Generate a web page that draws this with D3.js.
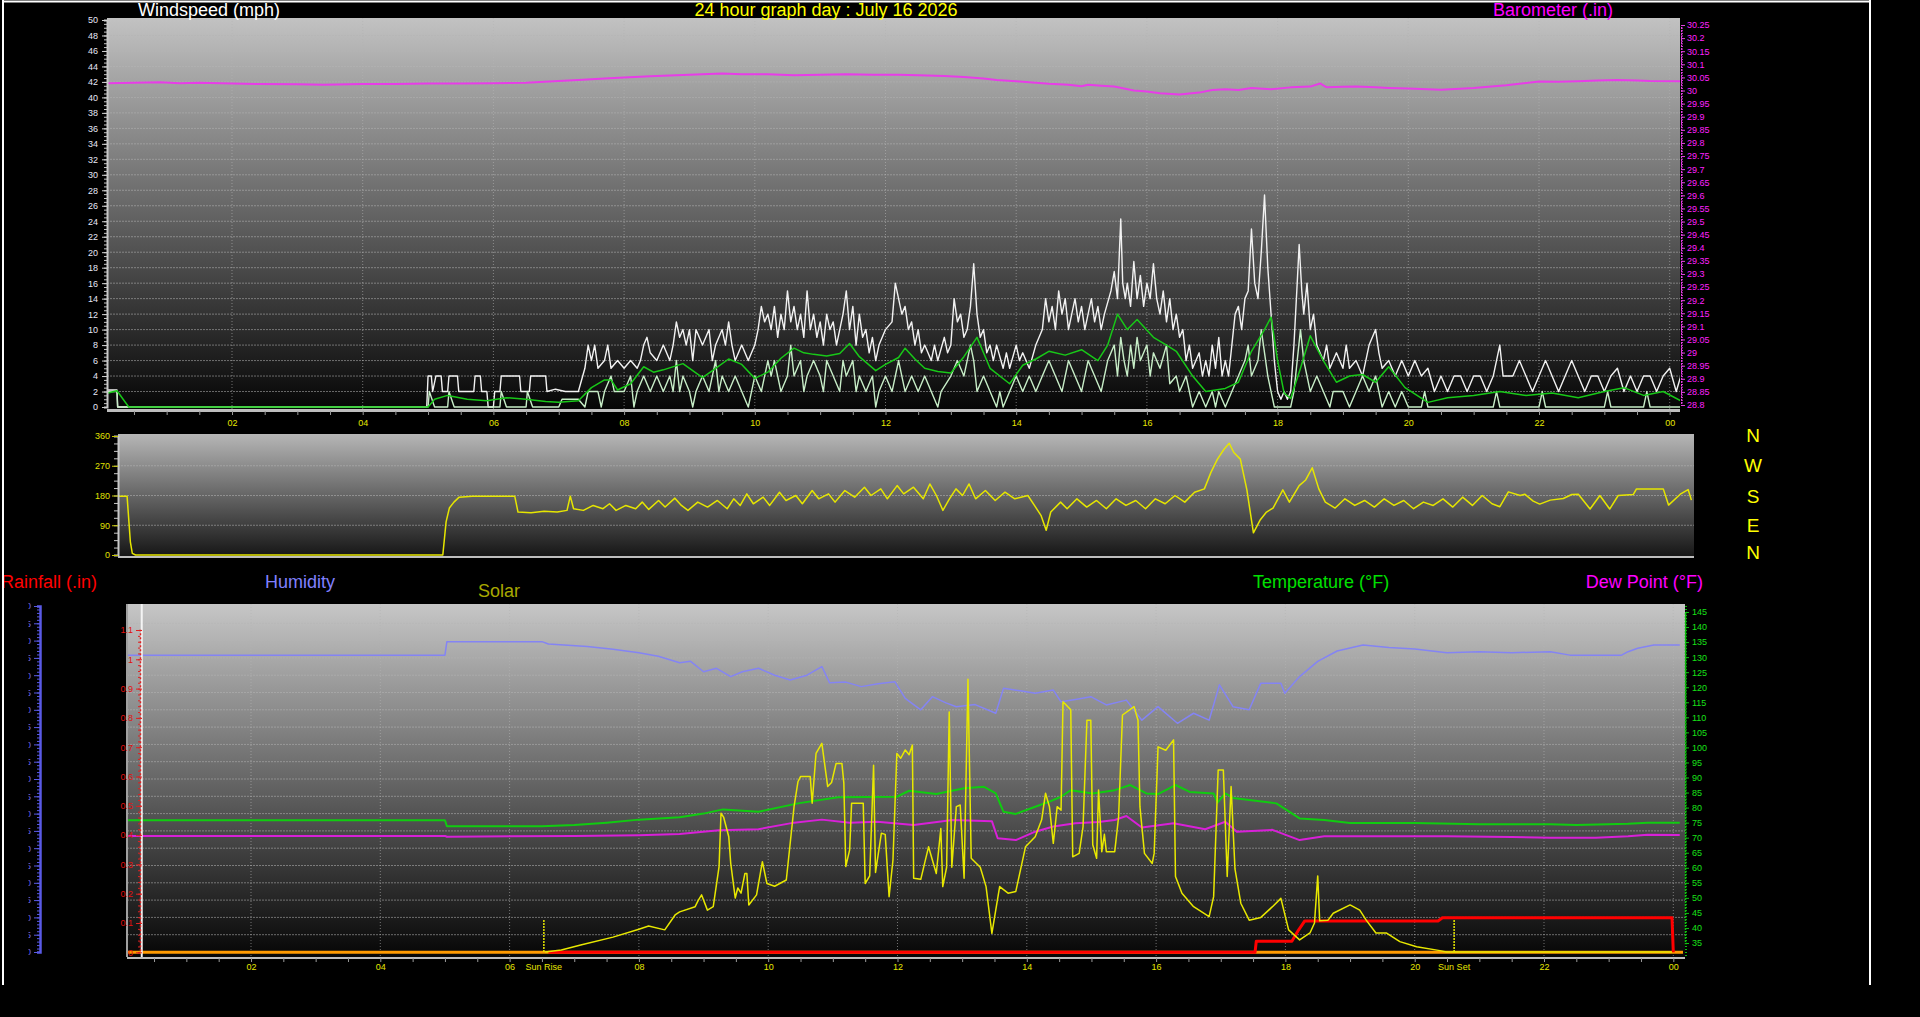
<!DOCTYPE html>
<html>
<head>
<meta charset="utf-8">
<script src="https://cdnjs.cloudflare.com/ajax/libs/d3/7.8.5/d3.min.js"></script>
<style>
  html, body { margin:0; padding:0; background:#000; overflow:hidden; }
  svg { display:block; font-family:"Liberation Sans", Arial, sans-serif; }
</style>
</head>
<body>
<script>
// ---- DATA (hour of day, value) ----
var titleText = '24 hour graph day : July 16 2026';
var hourTicks = [2, 4, 6, 8, 10, 12, 14, 16, 18, 20, 22, 24];
var compassLabels = ['N', 'W', 'S', 'E', 'N'];
var sunRise = 6.53, sunSet = 20.61, markerHour = 0.31;

var windGust = [[0,2.2],[0.24,2.2],[0.25,0],[4.98,0],[5.0,4],[5.05,4],[5.07,2],[5.12,4],[5.2,4],[5.22,2],[5.3,2],[5.32,4],[5.45,4],[5.47,2],[5.7,2],[5.72,4],[5.8,4],[5.82,2],[5.9,2],[5.92,0],[6.0,0],[6.02,2],[6.1,2],[6.12,4],[6.4,4],[6.42,2],[6.55,2],[6.57,4],[6.8,4],[6.82,2],[6.95,2.3],[7.1,2],[7.2,2],[7.3,2],[7.4,5],[7.45,8],[7.5,6],[7.55,8],[7.6,5],[7.7,6],[7.75,8],[7.8,5],[7.9,6],[8.0,5],[8.1,6],[8.2,5],[8.25,6],[8.3,8],[8.35,9],[8.4,7],[8.5,6],[8.6,8],[8.7,6],[8.75,8],[8.8,11],[8.85,9],[8.9,10],[8.95,8],[9.0,10],[9.05,6],[9.1,10],[9.15,9],[9.2,8],[9.3,10],[9.35,6],[9.4,8],[9.5,10],[9.55,8],[9.6,11],[9.65,8],[9.7,6],[9.8,8],[9.9,6],[10.0,8],[10.05,10],[10.1,13],[10.15,11],[10.2,12],[10.25,10],[10.3,13],[10.35,9],[10.4,12],[10.45,10],[10.5,15],[10.55,11],[10.6,13],[10.65,10],[10.7,12],[10.75,9],[10.8,15],[10.85,10],[10.9,12],[10.95,9],[11.0,11],[11.05,8],[11.1,12],[11.15,10],[11.2,11],[11.25,8],[11.3,10],[11.35,12],[11.4,15],[11.45,10],[11.5,13],[11.55,8],[11.6,12],[11.65,9],[11.7,10],[11.75,7],[11.8,9],[11.85,6],[11.9,8],[12.0,10],[12.1,11],[12.15,16],[12.2,14],[12.25,12],[12.3,13],[12.35,10],[12.4,11],[12.45,8],[12.5,10],[12.55,7],[12.6,8],[12.7,6],[12.75,8],[12.8,6],[12.9,9],[12.95,7],[13.0,8],[13.05,14],[13.1,11],[13.15,12],[13.2,9],[13.25,10],[13.3,13],[13.35,18.5],[13.4,12],[13.45,9],[13.5,10],[13.55,7],[13.6,8],[13.65,6],[13.7,8],[13.8,5],[13.85,7],[13.9,5],[14.0,8],[14.05,6],[14.1,7],[14.2,5],[14.3,8],[14.4,10],[14.45,14],[14.5,11],[14.55,13],[14.6,10],[14.65,15],[14.7,12],[14.75,14],[14.8,10],[14.85,12],[14.9,14],[14.95,11],[15.0,13],[15.05,10],[15.1,12],[15.15,14],[15.2,11],[15.25,13],[15.3,10],[15.35,12],[15.45,15],[15.5,17.5],[15.55,14],[15.6,24.3],[15.63,16],[15.67,14],[15.7,16],[15.75,13],[15.8,18.8],[15.85,14],[15.9,17],[15.95,13],[16.0,16],[16.05,14],[16.1,18.5],[16.15,14],[16.2,12],[16.25,15],[16.3,11],[16.35,14],[16.4,10],[16.45,12],[16.5,9],[16.55,10],[16.6,6],[16.65,8],[16.7,5],[16.8,7],[16.85,4],[16.9,6],[16.95,4],[17.0,8],[17.05,5],[17.1,9],[17.15,4],[17.2,6],[17.25,4],[17.3,8],[17.35,12],[17.4,13],[17.45,10],[17.5,14],[17.55,15],[17.6,23],[17.65,16],[17.7,14],[17.75,20],[17.8,27.4],[17.85,18],[17.9,12],[17.95,6],[18.0,2],[18.05,1],[18.1,2],[18.15,1],[18.2,2],[18.25,8],[18.3,16],[18.33,21],[18.37,15],[18.4,12],[18.45,16],[18.5,10],[18.55,12],[18.6,8],[18.7,6],[18.75,8],[18.8,5],[18.9,7],[19.0,5],[19.05,8],[19.1,5],[19.2,6],[19.3,4],[19.4,8],[19.5,10],[19.55,7],[19.6,5],[19.7,6],[19.8,4],[19.9,6],[20.0,4],[20.1,6],[20.2,4],[20.3,5],[20.4,2],[20.5,4],[20.6,2],[20.7,4],[20.8,4],[20.9,2],[21.0,4],[21.1,4],[21.2,2],[21.3,4],[21.4,8],[21.45,4],[21.6,4],[21.7,6],[21.8,4],[21.9,2],[22.0,4],[22.1,6],[22.2,4],[22.3,2],[22.4,4],[22.5,6],[22.6,4],[22.7,2],[22.8,4],[22.9,4],[23.0,2],[23.1,4],[23.2,5],[23.3,2],[23.4,4],[23.5,2],[23.6,4],[23.7,4],[23.8,2],[23.9,4],[24.0,5],[24.1,2],[24.17,4]];

var windSpeed = [[0,2],[0.24,2],[0.25,0],[5.0,0],[5.02,2],[5.1,0],[5.3,0],[5.32,2],[5.4,0],[6.1,0],[6.12,2],[6.2,0],[6.5,0],[6.52,2],[6.6,0],[7.0,0],[7.05,1],[7.3,1],[7.4,0],[7.45,2],[7.6,2],[7.65,0],[7.7,2],[7.8,4],[7.85,2],[8.0,2],[8.1,4],[8.15,0],[8.2,2],[8.3,4],[8.4,2],[8.5,4],[8.6,2],[8.7,4],[8.75,2],[8.8,6],[8.85,2],[8.9,4],[9.0,2],[9.05,0],[9.1,2],[9.2,4],[9.3,2],[9.4,6],[9.45,2],[9.5,4],[9.6,2],[9.7,4],[9.8,2],[9.9,0],[9.95,2],[10.0,4],[10.1,2],[10.2,6],[10.25,4],[10.3,6],[10.4,2],[10.5,4],[10.55,8],[10.6,4],[10.7,6],[10.75,2],[10.8,4],[10.9,6],[11.0,4],[11.05,2],[11.1,6],[11.2,4],[11.3,2],[11.35,6],[11.4,4],[11.5,6],[11.55,2],[11.6,4],[11.7,2],[11.8,4],[11.85,0],[11.9,2],[12.0,4],[12.1,2],[12.2,6],[12.25,4],[12.3,2],[12.4,4],[12.5,2],[12.6,4],[12.7,2],[12.8,0],[12.85,2],[13.0,4],[13.1,6],[13.2,4],[13.3,8],[13.35,6],[13.4,2],[13.5,4],[13.6,2],[13.7,0],[13.75,2],[13.8,0],[13.9,2],[14.0,4],[14.1,2],[14.2,4],[14.3,2],[14.4,4],[14.5,6],[14.6,4],[14.7,2],[14.8,6],[14.9,4],[15.0,2],[15.1,6],[15.2,4],[15.3,2],[15.4,6],[15.5,8],[15.55,4],[15.6,9],[15.65,6],[15.7,4],[15.75,8],[15.8,5],[15.85,9],[15.9,6],[16.0,8],[16.05,4],[16.1,7],[16.2,5],[16.3,8],[16.35,3],[16.45,4],[16.5,2],[16.6,4],[16.7,0],[16.8,2],[16.9,0],[17.0,2],[17.05,0],[17.1,2],[17.2,0],[17.3,2],[17.4,4],[17.5,6],[17.55,8],[17.6,4],[17.7,6],[17.75,10],[17.8,7],[17.85,4],[17.9,2],[17.95,0],[18.2,0],[18.25,2],[18.3,6],[18.35,10],[18.4,6],[18.45,4],[18.5,2],[18.6,4],[18.7,2],[18.8,0],[18.85,2],[19.0,2],[19.1,0],[19.2,2],[19.3,4],[19.4,2],[19.5,4],[19.6,0],[19.7,2],[19.8,0],[19.9,2],[20.0,0],[20.2,0],[20.25,2],[20.3,0],[21.3,0],[21.35,2],[21.4,0],[22.0,0],[22.05,2],[22.1,0],[23.0,0],[23.05,2],[23.1,0],[23.6,0],[23.65,2],[23.7,0],[24.17,0]];

var windAvg = [[0,1.8],[0.1,1.8],[0.24,2.1],[0.42,0],[5.0,0],[5.1,1],[5.3,1.5],[5.6,1],[5.9,0.8],[6.2,1.2],[6.5,1],[6.8,0.7],[7.0,0.6],[7.3,0.8],[7.5,2.5],[7.7,3.5],[7.8,3.5],[7.9,2.2],[8.1,3],[8.3,5.2],[8.45,4.5],[8.6,4.8],[8.9,5.6],[9.2,3.8],[9.4,5],[9.6,6.2],[9.8,5.5],[10.0,3.7],[10.2,4.5],[10.4,6.3],[10.6,7.6],[10.75,7],[10.9,6.8],[11.1,6.6],[11.3,6.9],[11.45,8.2],[11.6,6.5],[11.85,4.7],[12.0,5.5],[12.2,6.4],[12.3,7.6],[12.45,6.2],[12.6,5],[12.8,4.6],[13.0,4.4],[13.2,6.5],[13.4,9],[13.5,7],[13.6,5],[13.9,3],[14.1,5.4],[14.3,6.2],[14.5,7.2],[14.75,6.7],[15.0,7.4],[15.25,6],[15.4,8],[15.55,12],[15.7,10],[15.85,11.3],[16.1,9],[16.3,8],[16.45,7.2],[16.7,4],[16.9,2],[17.2,2.4],[17.4,3.2],[17.6,7.2],[17.8,10],[17.9,11.6],[18.0,6],[18.1,1.8],[18.2,1.1],[18.35,5],[18.5,9.2],[18.7,6],[18.9,3.2],[19.1,4],[19.3,4.2],[19.5,3.2],[19.7,5.2],[19.95,2.5],[20.3,0.6],[20.6,1.2],[21.0,1.5],[21.4,2],[21.8,1.5],[22.2,1.8],[22.6,1.2],[23.0,2],[23.3,2.5],[23.6,1.5],[23.9,2],[24.17,0.8]];

var barometer = [[0,30.027],[0.5,30.03],[0.9,30.032],[1.2,30.028],[1.5,30.03],[2.0,30.027],[2.4,30.025],[3.0,30.024],[3.4,30.022],[4.0,30.025],[4.5,30.025],[5.0,30.027],[5.5,30.027],[6.0,30.028],[6.5,30.03],[7.0,30.036],[7.3,30.04],[7.7,30.046],[8.0,30.05],[8.4,30.054],[8.8,30.058],[9.2,30.062],[9.5,30.065],[9.8,30.062],[10.2,30.062],[10.6,30.058],[11.0,30.06],[11.4,30.062],[11.8,30.06],[12.2,30.06],[12.5,30.058],[12.9,30.055],[13.2,30.052],[13.5,30.046],[13.7,30.04],[14.0,30.035],[14.3,30.03],[14.5,30.026],[14.8,30.022],[15.0,30.016],[15.1,30.022],[15.3,30.018],[15.5,30.015],[15.8,30.0],[16.0,29.996],[16.2,29.99],[16.5,29.985],[16.8,29.992],[17.0,30.002],[17.2,30.005],[17.4,30.002],[17.6,30.01],[17.9,30.005],[18.2,30.012],[18.5,30.015],[18.65,30.027],[18.75,30.012],[19.0,30.014],[19.2,30.015],[19.5,30.012],[19.7,30.01],[20.0,30.008],[20.5,30.003],[21.0,30.01],[21.5,30.02],[22.0,30.034],[22.3,30.033],[22.6,30.035],[22.9,30.038],[23.2,30.04],[23.5,30.038],[23.7,30.036],[24.17,30.035]];

var windDir = [[0,178],[0.22,178],[0.27,40],[0.3,5],[0.35,0],[5.05,0],[5.1,100],[5.15,142],[5.22,160],[5.3,175],[5.5,178],[6.0,178],[6.15,178],[6.2,130],[6.4,128],[6.6,132],[6.8,130],[6.95,135],[7.0,178],[7.05,140],[7.2,135],[7.35,150],[7.5,140],[7.6,155],[7.7,135],[7.85,150],[8.0,140],[8.1,160],[8.2,138],[8.35,165],[8.45,145],[8.6,172],[8.7,150],[8.8,135],[8.95,160],[9.1,145],[9.25,165],[9.4,140],[9.5,170],[9.6,150],[9.7,185],[9.8,155],[9.95,175],[10.05,150],[10.2,190],[10.3,165],[10.45,180],[10.55,155],[10.7,195],[10.8,170],[10.95,185],[11.05,160],[11.2,195],[11.35,175],[11.5,205],[11.6,180],[11.75,200],[11.85,170],[12.0,210],[12.1,185],[12.25,205],[12.4,170],[12.5,215],[12.6,180],[12.7,135],[12.8,170],[12.9,200],[13.0,180],[13.1,215],[13.2,170],[13.35,195],[13.5,165],[13.65,190],[13.8,170],[14.0,180],[14.1,150],[14.2,120],[14.28,75],[14.35,130],[14.5,160],[14.6,140],[14.75,170],[14.9,145],[15.05,165],[15.2,140],[15.35,170],[15.5,150],[15.65,165],[15.8,140],[15.95,170],[16.1,155],[16.25,180],[16.4,160],[16.55,190],[16.7,200],[16.8,250],[16.9,290],[17.0,320],[17.08,338],[17.15,310],[17.25,290],[17.35,197],[17.45,67],[17.55,105],[17.65,130],[17.75,142],[17.9,197],[18.0,160],[18.15,210],[18.25,227],[18.35,264],[18.45,200],[18.55,160],[18.7,142],[18.85,170],[19.0,150],[19.15,165],[19.3,145],[19.45,170],[19.6,150],[19.75,165],[19.9,140],[20.05,160],[20.2,150],[20.35,170],[20.5,145],[20.65,175],[20.8,150],[20.95,180],[21.1,155],[21.22,146],[21.35,191],[21.53,180],[21.6,184],[21.73,163],[21.83,154],[21.99,166],[22.19,171],[22.32,183],[22.42,184],[22.6,139],[22.75,180],[22.9,139],[23.03,180],[23.26,183],[23.31,200],[23.72,200],[23.8,151],[23.98,184],[24.1,198],[24.15,166]];

var humidity = [[0,85.8],[5.0,85.8],[5.03,89.7],[6.5,89.7],[6.6,89],[7.2,88.3],[7.6,87.5],[8.0,86.5],[8.3,85.5],[8.63,83.6],[8.8,84],[9.0,81],[9.2,82],[9.42,79.6],[9.6,81],[9.85,82],[10.1,80],[10.34,78.6],[10.6,80],[10.83,82.5],[10.95,77.8],[11.2,78],[11.44,76.7],[11.7,77.5],[11.96,78.1],[12.12,73.3],[12.36,70],[12.54,73.8],[12.75,72],[12.91,70.9],[13.2,71.5],[13.52,69],[13.64,76.2],[13.9,75.5],[14.13,74.8],[14.41,75.7],[14.53,72.3],[14.75,73],[14.99,73.8],[15.23,71.4],[15.54,72.8],[15.78,67],[16.03,70.9],[16.33,66.1],[16.58,69],[16.82,67],[16.98,77.2],[17.19,70.9],[17.44,70],[17.62,77.7],[17.93,77.7],[17.99,74.8],[18.22,79.6],[18.5,84],[18.8,87],[19.2,88.7],[19.6,88],[20.0,87.6],[20.5,86.5],[21.0,86.8],[21.5,86.5],[22.1,86.8],[22.4,85.8],[23.2,85.8],[23.3,86.8],[23.45,87.8],[23.7,88.7],[24.1,88.7]];

var temperature = [[0,75.8],[5.0,75.8],[5.03,73.8],[6.5,73.8],[7.0,74.2],[7.5,75],[8.0,76],[8.63,76.8],[9.0,78],[9.3,79.4],[9.85,78.6],[10.46,81.4],[11.08,83.4],[11.99,83.6],[12.18,85.6],[12.6,84.5],[13.03,86.4],[13.34,86.9],[13.52,84.7],[13.64,78.6],[13.83,77.9],[14.13,80.3],[14.35,82],[14.53,83.6],[14.68,85.8],[15.02,84.7],[15.36,85.8],[15.6,87.5],[15.85,84.7],[16.03,84.5],[16.3,87.5],[16.52,85.2],[16.89,84.7],[16.95,81.7],[17.07,84.7],[17.19,83.2],[17.86,81.4],[18.22,76.4],[18.6,75.9],[19.0,74.9],[20.0,74.9],[21.0,74.5],[22.1,74.5],[22.5,74.2],[23.3,74.6],[23.6,75],[24.1,75]];

var dewPoint = [[0,70.6],[5.0,70.6],[5.03,70.3],[7.0,70.6],[8.0,70.8],[8.63,71.2],[9.24,72.5],[9.85,72.8],[10.4,75],[10.83,76],[11.26,75],[11.69,75.3],[12.25,74.2],[12.85,75.9],[13.46,75.5],[13.55,69.8],[13.83,69.2],[14.13,72],[14.41,73.7],[14.75,74.8],[15.11,75.2],[15.36,75.9],[15.54,77.2],[15.78,73.4],[16.27,74.8],[16.76,72.8],[17.07,75.3],[17.25,72],[17.8,72.6],[18.22,69.2],[18.6,70.5],[19.5,70.5],[20.5,70.5],[21.5,70.2],[22.1,70],[22.8,70],[23.3,70.5],[23.6,71],[24.1,70.9]];

var solar = [[6.55,0],[6.8,6],[7.1,20],[7.6,43],[8.0,66],[8.15,75],[8.4,64],[8.56,107],[8.63,116],[8.87,131],[8.92,150],[8.97,165],[9.06,121],[9.15,131],[9.24,247],[9.27,401],[9.31,390],[9.39,333],[9.42,257],[9.49,156],[9.53,185],[9.58,170],[9.64,227],[9.67,227],[9.7,136],[9.82,165],[9.91,261],[9.98,198],[10.1,190],[10.28,208],[10.4,420],[10.46,492],[10.5,507],[10.65,507],[10.68,430],[10.74,574],[10.83,603],[10.89,520],[10.92,478],[10.98,490],[11.05,545],[11.14,545],[11.17,488],[11.2,247],[11.26,295],[11.29,430],[11.47,430],[11.5,198],[11.57,220],[11.63,540],[11.66,230],[11.75,343],[11.81,340],[11.87,160],[11.93,266],[11.99,574],[12.05,560],[12.12,584],[12.18,570],[12.23,598],[12.25,213],[12.36,210],[12.48,304],[12.6,227],[12.67,357],[12.7,189],[12.76,245],[12.8,694],[12.84,245],[12.91,420],[12.97,425],[13.03,213],[13.09,788],[13.14,271],[13.28,245],[13.37,189],[13.46,54],[13.58,189],[13.71,170],[13.83,175],[13.98,304],[14.13,333],[14.23,382],[14.29,459],[14.35,420],[14.41,314],[14.47,420],[14.53,410],[14.56,723],[14.68,700],[14.71,275],[14.81,285],[14.87,362],[14.93,670],[14.99,670],[15.02,310],[15.08,271],[15.11,468],[15.16,290],[15.2,340],[15.23,290],[15.36,290],[15.42,391],[15.48,685],[15.66,709],[15.72,670],[15.75,420],[15.82,285],[15.94,256],[15.97,285],[16.03,593],[16.15,583],[16.27,613],[16.3,218],[16.4,170],[16.58,131],[16.82,102],[16.89,160],[16.96,526],[17.04,526],[17.1,218],[17.16,478],[17.22,240],[17.31,141],[17.44,92],[17.62,100],[17.8,131],[17.93,155],[18.05,64],[18.22,35],[18.38,55],[18.45,84],[18.5,220],[18.53,90],[18.66,92],[18.74,112],[19.0,136],[19.15,121],[19.25,92],[19.4,55],[19.56,55],[19.77,30],[20.03,15],[20.39,4],[20.49,0],[23.98,0]];

var rainfall = [[6.6,0],[17.53,0],[17.55,0.038],[18.1,0.038],[18.2,0.075],[18.3,0.107],[20.36,0.107],[20.43,0.118],[23.98,0.118],[24.0,0]];
var uvIndex = [[0,0],[24.15,0]];

var windTicks = d3.range(0, 51, 2);
var baroTicks = d3.range(0, 30).map(function(i){ return +(28.8 + i * 0.05).toFixed(2); });
var dirTicks = [0, 90, 180, 270, 360];
var humTicks = d3.range(0, 101, 5);
var rainTicks = d3.range(0, 12).map(function(i){ return +(i * 0.1).toFixed(1); });
var tempTicks = d3.range(35, 146, 5);

function hourLabel(h){
  if (h == 24) return '00';
  return h < 10 ? '0' + h : '' + h;
}

var initialize = function(){
  var screen = { width: 1920, height: 1017 };
  var windBox = { left: 107, right: 1680, top: 18, bottom: 410 };
  var dirBox = { left: 118, right: 1694, top: 434, bottom: 557 };
  var dayBox = { left: 127, right: 1685, top: 604, bottom: 957 };

  var svg = d3.select('body')
              .append('svg')
              .attr('width', screen.width)
              .attr('height', screen.height);

  svg.append('rect').attr('width', screen.width).attr('height', screen.height).attr('fill', '#000');

  var defs = svg.append('defs');
  function addGradient(id, top, bottom){
    var g = defs.append('linearGradient').attr('id', id)
                .attr('x1', 0).attr('y1', 0).attr('x2', 0).attr('y2', 1);
    g.append('stop').attr('offset', '0%').attr('stop-color', top);
    g.append('stop').attr('offset', '100%').attr('stop-color', bottom);
  }
  addGradient('gWind', '#c2c2c2', '#050505');
  addGradient('gDir', '#b6b6b6', '#151515');
  addGradient('gDay', '#c6c6c6', '#060606');

  function addClip(id, box){
    defs.append('clipPath').attr('id', id)
        .append('rect').attr('x', box.left).attr('y', box.top)
        .attr('width', box.right - box.left).attr('height', box.bottom - box.top);
  }
  addClip('cWind', windBox);
  addClip('cDir', dirBox);
  addClip('cDay', dayBox);
  defs.append('clipPath').attr('id', 'cHum')
      .append('rect').attr('x', 28.5).attr('y', 590).attr('width', 20).attr('height', 380);

  function panel(box, grad){
    svg.append('rect')
       .attr('x', box.left).attr('y', box.top)
       .attr('width', box.right - box.left).attr('height', box.bottom - box.top)
       .attr('fill', 'url(#' + grad + ')');
  }
  panel(windBox, 'gWind');
  panel(dirBox, 'gDir');
  panel(dayBox, 'gDay');

  // scales
  var xWind = d3.scaleLinear().domain([0, 24]).range([101.3, 1669.7]);
  var yWind = d3.scaleLinear().domain([0, 50]).range([407, 20]);
  var yBaro = d3.scaleLinear().domain([28.8, 30.25]).range([405, 25]);
  var xDir = d3.scaleLinear().domain([0, 24]).range([112.7, 1681.6]);
  var yDir = d3.scaleLinear().domain([0, 360]).range([555, 436]);
  var xDay = d3.scaleLinear().domain([0, 24]).range([121.7, 1673.3]);
  var yTemp = d3.scaleLinear().domain([35, 145]).range([943, 612]);
  var yHum = d3.scaleLinear().domain([0, 100]).range([952, 606]);
  var yRain = d3.scaleLinear().domain([0, 1.1]).range([952.3, 630]);
  var ySolar = d3.scaleLinear().domain([0, 1000]).range([952, 606]);

  // grids
  function hGrid(values, ys, box){
    svg.append('g').selectAll('line').data(values).enter().append('line')
       .attr('x1', box.left).attr('x2', box.right)
       .attr('y1', function(d){ return ys(d); }).attr('y2', function(d){ return ys(d); })
       .attr('stroke', '#b4b4b4').attr('stroke-opacity', 0.55)
       .attr('stroke-dasharray', '2,1');
  }
  function vGrid(values, xs, box){
    svg.append('g').selectAll('line').data(values).enter().append('line')
       .attr('y1', box.top).attr('y2', box.bottom)
       .attr('x1', function(d){ return xs(d); }).attr('x2', function(d){ return xs(d); })
       .attr('stroke', '#b4b4b4').attr('stroke-opacity', 0.6)
       .attr('stroke-dasharray', '1,2');
  }
  hGrid(windTicks.filter(function(d){ return d > 0 && d < 50; }), yWind, windBox);
  vGrid(hourTicks, xWind, windBox);
  hGrid([90, 180, 270], yDir, dirBox);
  hGrid(humTicks.filter(function(d){ return d > 0 && d < 100; }), yHum, dayBox);
  vGrid(hourTicks, xDay, dayBox);

  function drawSeries(clip, data, xs, ys, color, width, curve){
    var line = d3.line()
                 .x(function(d){ return xs(d[0]); })
                 .y(function(d){ return ys(d[1]); })
                 .curve(curve || d3.curveLinear);
    svg.append('g')
       .attr('clip-path', 'url(#' + clip + ')')
       .append('path')
       .datum(data)
       .attr('d', line)
       .attr('fill', 'none')
       .attr('stroke', color)
       .attr('stroke-width', width)
       .attr('stroke-linejoin', 'round');
  }

  // WIND PANEL //
  drawSeries('cWind', barometer, xWind, yBaro, '#e83ce8', 2);
  drawSeries('cWind', windGust, xWind, yWind, '#f2f2f2', 1.4);
  drawSeries('cWind', windSpeed, xWind, yWind, '#c8eec8', 1.4);
  drawSeries('cWind', windAvg, xWind, yWind, '#18c818', 1.5);

  // WIND DIRECTION PANEL //
  drawSeries('cDir', windDir, xDir, yDir, '#e6e600', 1.5);

  // DAY PANEL //
  drawSeries('cDay', uvIndex, xDay, yRain, '#ff9a00', 3);
  drawSeries('cDay', humidity, xDay, yHum, '#8484f4', 1.5);
  drawSeries('cDay', dewPoint, xDay, yTemp, '#d820d8', 2);
  drawSeries('cDay', temperature, xDay, yTemp, '#10cc10', 2);
  drawSeries('cDay', rainfall, xDay, yRain, '#ff0000', 3);
  drawSeries('cDay', solar, xDay, ySolar, '#e8e800', 1.5);

  // sunrise / sunset markers
  var sun = svg.append('g');
  sun.selectAll('line').data([sunRise, sunSet]).enter().append('line')
     .attr('x1', function(d){ return xDay(d); }).attr('x2', function(d){ return xDay(d); })
     .attr('y1', 920).attr('y2', 953)
     .attr('stroke', '#e8e800').attr('stroke-width', 1.5).attr('stroke-dasharray', '2,1');
  sun.selectAll('text').data([[sunRise, 'Sun Rise'], [sunSet, 'Sun Set']]).enter().append('text')
     .attr('x', function(d){ return xDay(d[0]); }).attr('y', 970)
     .attr('text-anchor', 'middle').attr('font-size', 9).attr('fill', '#e8e800')
     .text(function(d){ return d[1]; });

  svg.append('line')
     .attr('x1', xDay(markerHour)).attr('x2', xDay(markerHour))
     .attr('y1', dayBox.top).attr('y2', dayBox.bottom)
     .attr('stroke', '#f4f4f4').attr('stroke-width', 2);

  // AXES //
  function styleAxis(g, lineColor, textColor){
    g.attr('font-family', '"Liberation Sans", Arial, sans-serif').attr('font-size', 9);
    g.selectAll('.domain').attr('stroke', lineColor);
    g.selectAll('.tick line').attr('stroke', lineColor);
    g.selectAll('text').attr('fill', textColor);
    return g;
  }

  // wind speed (left)
  styleAxis(svg.append('g')
     .attr('transform', 'translate(' + windBox.left + ',0)')
     .call(d3.axisLeft(yWind).tickValues(d3.range(0, 50.1, 0.5)).tickSize(3).tickFormat('')), '#c8c8c8', '#fff')
     .select('.domain').attr('stroke-width', 2);
  styleAxis(svg.append('g')
     .attr('transform', 'translate(' + windBox.left + ',0)')
     .call(d3.axisLeft(yWind).tickValues(windTicks).tickSize(5).tickPadding(4)), '#d0d0d0', '#e6e6f6')
     .select('.domain').remove();

  // barometer (right)
  styleAxis(svg.append('g')
     .attr('transform', 'translate(' + (windBox.right + 1) + ',0)')
     .call(d3.axisRight(yBaro).tickValues(d3.range(0, 146).map(function(i){ return 28.8 + i * 0.01; })).tickSize(2).tickFormat('')), '#e040e0', '#e040e0')
     .select('.domain').attr('stroke-dasharray', '2,1');
  styleAxis(svg.append('g')
     .attr('transform', 'translate(' + (windBox.right + 1) + ',0)')
     .call(d3.axisRight(yBaro).tickValues(baroTicks).tickSize(4).tickPadding(2)
            .tickFormat(function(d){ return '' + d; })), '#e040e0', '#ff20ff')
     .select('.domain').remove();

  // time axes
  function timeAxis(xs, y, pad){
    var g = svg.append('g')
               .attr('transform', 'translate(0,' + y + ')')
               .call(d3.axisBottom(xs)
                       .tickValues(d3.range(0.5, 24.1, 0.5))
                       .tickSize(4).tickPadding(pad)
                       .tickFormat(function(h){ return (h % 2 == 0) ? hourLabel(h) : ''; }));
    styleAxis(g, '#9a9a9a', '#e6e600');
    g.select('.domain').remove();
    return g;
  }
  svg.append('rect').attr('x', windBox.left).attr('y', windBox.bottom - 1)
     .attr('width', windBox.right - windBox.left).attr('height', 3).attr('fill', '#bdbdbd');
  timeAxis(xWind, windBox.bottom + 1, 5);
  svg.append('rect').attr('x', dirBox.left).attr('y', dirBox.bottom - 1)
     .attr('width', dirBox.right - dirBox.left).attr('height', 2).attr('fill', '#bdbdbd');
  svg.append('rect').attr('x', dayBox.left).attr('y', dayBox.bottom)
     .attr('width', dayBox.right - dayBox.left).attr('height', 2).attr('fill', '#bdbdbd');
  timeAxis(xDay, dayBox.bottom + 1, 2);

  // wind direction (left)
  styleAxis(svg.append('g')
     .attr('transform', 'translate(' + dirBox.left + ',0)')
     .call(d3.axisLeft(yDir).tickValues(d3.range(0, 361, 22.5)).tickSize(4).tickFormat('')), '#c8c8c8', '#d8d800')
     .select('.domain').attr('stroke-width', 2);
  styleAxis(svg.append('g')
     .attr('transform', 'translate(' + dirBox.left + ',0)')
     .call(d3.axisLeft(yDir).tickValues(dirTicks).tickSize(6).tickPadding(2)), '#c8c800', '#e0e000')
     .select('.domain').remove();

  // left edge of day panel
  svg.append('rect').attr('x', dayBox.left - 1).attr('y', dayBox.top)
     .attr('width', 2).attr('height', dayBox.bottom - dayBox.top).attr('fill', '#a0a0a0');

  // humidity (far left, labels clipped)
  var humAxis = svg.append('g')
     .attr('transform', 'translate(40,0)')
     .call(d3.axisLeft(yHum).tickValues(d3.range(0, 101, 1)).tickSize(3).tickFormat(''));
  styleAxis(humAxis, '#5a5ae6', '#5a5ae6');
  humAxis.select('.domain').attr('stroke-width', 2.5);
  var humLabels = svg.append('g').attr('clip-path', 'url(#cHum)')
     .append('g').attr('transform', 'translate(40,0)')
     .call(d3.axisLeft(yHum).tickValues(humTicks).tickSize(6).tickPadding(3));
  styleAxis(humLabels, '#5a5ae6', '#6a6aff');
  humLabels.select('.domain').remove();

  // rainfall (inside the day panel)
  var rainX = 140;
  styleAxis(svg.append('g')
     .attr('transform', 'translate(' + rainX + ',0)')
     .call(d3.axisLeft(yRain).tickValues(d3.range(0, 56).map(function(i){ return i * 0.02; })).tickSize(2).tickFormat('')), '#e02020', '#e02020')
     .select('.domain').attr('stroke-dasharray', '2,2').attr('stroke-width', 1.5);
  var rainAxis = svg.append('g')
     .attr('transform', 'translate(' + rainX + ',0)')
     .call(d3.axisLeft(yRain).tickValues(rainTicks).tickSize(4).tickPadding(3)
            .tickFormat(function(d){ return '' + d; }));
  styleAxis(rainAxis, '#e02020', '#e01010');
  rainAxis.select('.domain').remove();
  rainAxis.selectAll('.tick line').attr('x2', 2).attr('x1', -4);

  // temperature (right)
  styleAxis(svg.append('g')
     .attr('transform', 'translate(' + dayBox.right + ',0)')
     .call(d3.axisRight(yTemp).tickValues(d3.range(31, 148, 1)).tickSize(2).tickFormat('')), '#10c010', '#10c010')
     .select('.domain').attr('stroke-dasharray', '2,1').attr('stroke-width', 1.5);
  styleAxis(svg.append('g')
     .attr('transform', 'translate(' + dayBox.right + ',0)')
     .call(d3.axisRight(yTemp).tickValues(tempTicks).tickSize(4).tickPadding(3)), '#10c010', '#18e018')
     .select('.domain').remove();

  // TEXTS //
  var texts = [
    ['Windspeed (mph)', 138, 16, 'start', '#ffffff'],
    [titleText, 826, 16, 'middle', '#ffff00'],
    ['Barometer (.in)', 1613, 16, 'end', '#ff00ff'],
    ['Rainfall (.in)', 97, 588, 'end', '#ff0000'],
    ['Humidity', 265, 588, 'start', '#8080ff'],
    ['Solar', 478, 597, 'start', '#a8a800'],
    ['Temperature (°F)', 1253, 588, 'start', '#00e000'],
    ['Dew Point (°F)', 1703, 588, 'end', '#ff00ff']
  ];
  svg.append('g').selectAll('text').data(texts).enter().append('text')
     .attr('x', function(d){ return d[1]; })
     .attr('y', function(d){ return d[2]; })
     .attr('text-anchor', function(d){ return d[3]; })
     .attr('fill', function(d){ return d[4]; })
     .attr('font-size', 18)
     .text(function(d){ return d[0]; });

  var compassY = [442, 472, 503, 532, 559];
  svg.append('g').selectAll('text').data(compassLabels).enter().append('text')
     .attr('x', 1753)
     .attr('y', function(d, i){ return compassY[i]; })
     .attr('text-anchor', 'middle')
     .attr('fill', '#ffff00')
     .attr('font-size', 19)
     .text(function(d){ return d; });

  // outer frame
  var frame = svg.append('g').attr('stroke', '#ffffff').attr('stroke-width', 2);
  frame.append('line').attr('x1', 3).attr('x2', 3).attr('y1', 0).attr('y2', 985);
  frame.append('line').attr('x1', 2).attr('x2', 1871).attr('y1', 1.5).attr('y2', 1.5);
  frame.append('line').attr('x1', 1870).attr('x2', 1870).attr('y1', 0).attr('y2', 985);
};

initialize();
</script>
</body>
</html>
